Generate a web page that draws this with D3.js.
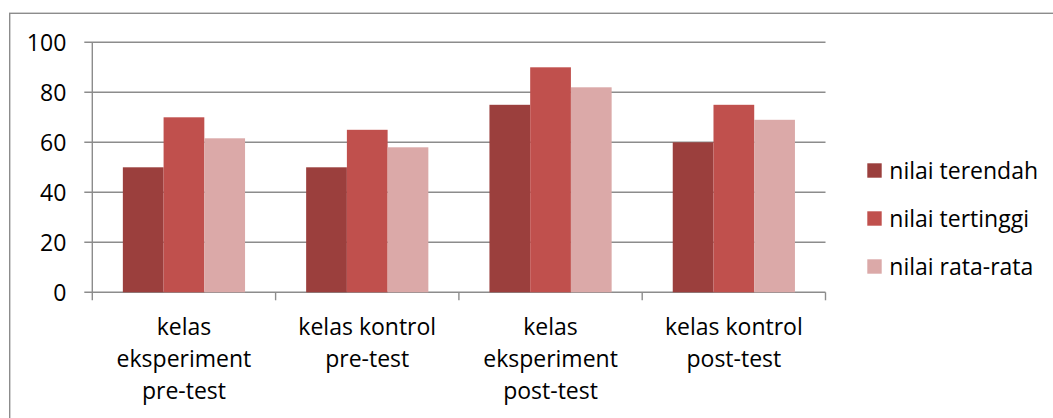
<!DOCTYPE html>
<html>
<head>
<meta charset="utf-8">
<script src="https://cdn.jsdelivr.net/npm/d3@7"></script>
<style>
  html, body { margin: 0; padding: 0; background: #fff; }
  svg { display: block; font-family: "Open Sans", sans-serif; }
</style>
</head>
<body>
<div id="chart"></div>
<script>
// Chart data
const categories = [
    ['kelas', 'eksperiment', 'pre-test'],
    ['kelas kontrol', 'pre-test'],
    ['kelas', 'eksperiment', 'post-test'],
    ['kelas kontrol', 'post-test']
];
const seriesNames = ['nilai terendah', 'nilai tertinggi', 'nilai rata-rata'];
const nilaiTerendah = [50, 50, 75, 60];
const nilaiTertinggi = [70, 65, 90, 75];
const nilaiRataRata = [61.6, 58, 82, 69];
const yTicks = [0, 20, 40, 60, 80, 100];

function createBarChart() {
    const width = 1053, height = 418;
    const margin = {top: 42.3, left: 92.3, right: 1053 - 825.5, bottom: 418 - 292.3};
    const innerW = width - margin.left - margin.right;
    const innerH = height - margin.top - margin.bottom;
    const fontSize = '23px';

    const colors = ['#9b3f3d', '#c0504d', '#dba9a8'];
    const seriesValues = [nilaiTerendah, nilaiTertinggi, nilaiRataRata];
    const gridColor = '#8c8c8c';

    const svg = d3.select('#chart').append('svg')
        .attr('width', width)
        .attr('height', height);

    // outer frame (right and bottom edges fall off the picture)
    svg.append('rect')
        .attr('x', 9.7).attr('y', 13.3)
        .attr('width', 1200).attr('height', 600)
        .attr('fill', 'none')
        .attr('stroke', gridColor)
        .attr('stroke-width', 1.4);

    const g = svg.append('g')
        .attr('transform', `translate(${margin.left},${margin.top})`);

    const x0 = d3.scaleBand()
        .domain(d3.range(categories.length))
        .range([0, innerW])
        .paddingInner(0).paddingOuter(0);

    // Excel gap width 150%: three bars take 3/4.5 of each band
    const barW = x0.bandwidth() / 4.5;
    const x1 = d3.scaleBand()
        .domain(d3.range(seriesNames.length))
        .range([barW * 0.75, barW * 3.75]);

    const y = d3.scaleLinear().domain([0, 100]).range([innerH, 0]);

    // gridlines + y ticks
    g.selectAll('line.grid')
        .data(yTicks)
        .enter().append('line')
        .attr('class', 'grid')
        .attr('x1', -8).attr('x2', innerW)
        .attr('y1', d => y(d)).attr('y2', d => y(d))
        .attr('stroke', gridColor)
        .attr('stroke-width', 1.4);

    // y axis line
    g.append('line')
        .attr('x1', 0).attr('x2', 0)
        .attr('y1', 0).attr('y2', innerH)
        .attr('stroke', gridColor).attr('stroke-width', 1.4);

    // x category boundary ticks
    const bounds = d3.range(categories.length + 1).map(i => i * x0.step());
    g.selectAll('line.xtick')
        .data(bounds)
        .enter().append('line')
        .attr('class', 'xtick')
        .attr('x1', d => d).attr('x2', d => d)
        .attr('y1', innerH).attr('y2', innerH + 8)
        .attr('stroke', gridColor).attr('stroke-width', 1.4);

    // y tick labels
    g.selectAll('text.ylabel')
        .data(yTicks)
        .enter().append('text')
        .attr('class', 'ylabel')
        .attr('x', -26)
        .attr('y', d => y(d))
        .attr('dy', '0.36em')
        .attr('text-anchor', 'end')
        .style('font-size', fontSize)
        .style('fill', '#000')
        .text(d => d);

    // bars
    seriesValues.forEach((vals, s) => {
        g.selectAll(`rect.s${s}`)
            .data(vals)
            .enter().append('rect')
            .attr('class', `s${s}`)
            .attr('x', (d, i) => x0(i) + x1(s))
            .attr('y', d => y(d))
            .attr('width', x1.bandwidth())
            .attr('height', d => innerH - y(d))
            .attr('fill', colors[s]);
    });

    // category labels
    const catG = g.selectAll('g.cat')
        .data(categories)
        .enter().append('g')
        .attr('class', 'cat')
        .attr('transform', (d, i) => `translate(${x0(i) + x0.bandwidth() / 2},${innerH + 42.7})`);

    catG.selectAll('text')
        .data(d => d)
        .enter().append('text')
        .attr('x', 0)
        .attr('y', (d, i) => i * 32)
        .attr('text-anchor', 'middle')
        .style('font-size', fontSize)
        .style('fill', '#000')
        .text(d => d);

    // legend
    const legend = svg.append('g')
        .attr('transform', 'translate(867.3,163.3)');

    const item = legend.selectAll('g')
        .data(seriesNames)
        .enter().append('g')
        .attr('transform', (d, i) => `translate(0,${i * 48})`);

    item.append('rect')
        .attr('width', 14.4).attr('height', 14.4)
        .attr('fill', (d, i) => colors[i]);

    item.append('text')
        .attr('x', 22)
        .attr('y', 7.2)
        .attr('dy', '0.36em')
        .style('font-size', fontSize)
        .style('fill', '#000')
        .text(d => d);
}

createBarChart();
</script>
</body>
</html>
